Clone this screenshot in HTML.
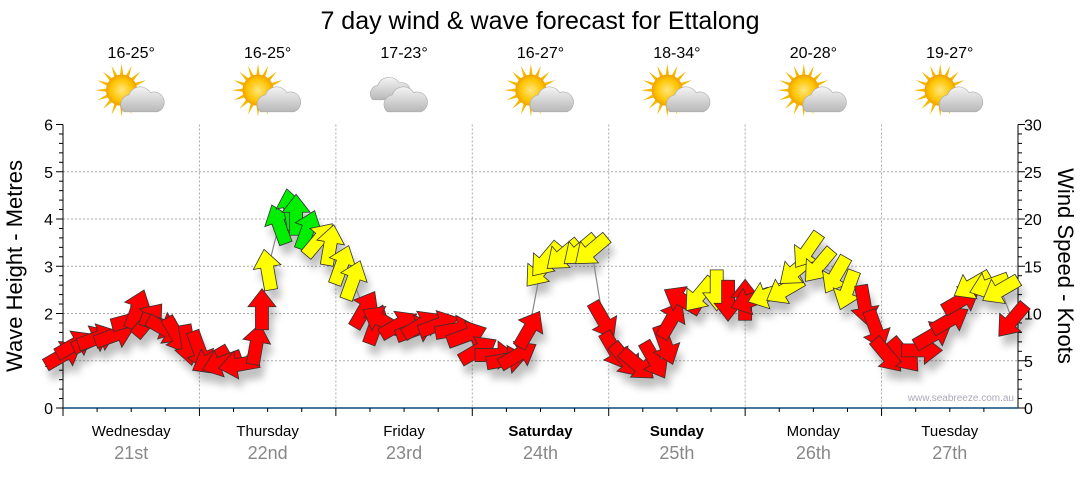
<!DOCTYPE html>
<html><head><meta charset="utf-8"><style>
body{margin:0;background:#fff;width:1080px;height:475px;overflow:hidden;font-family:"Liberation Sans",sans-serif}
</style></head><body>
<svg id="c" width="1080" height="475" xmlns="http://www.w3.org/2000/svg">
<defs>
<filter id="sh" x="-50%" y="-50%" width="200%" height="200%"><feGaussianBlur stdDeviation="4"/></filter>
<radialGradient id="sun" cx="50%" cy="50%" r="50%"><stop offset="0" stop-color="#ffe680"/><stop offset="0.7" stop-color="#ffc400"/><stop offset="1" stop-color="#f0a000"/></radialGradient>
<linearGradient id="cl" x1="0" y1="0" x2="0" y2="1"><stop offset="0" stop-color="#f4f4f4"/><stop offset="1" stop-color="#b8b8b8"/></linearGradient>
</defs>
<text x="540" y="29" text-anchor="middle" font-size="25" fill="#000">7 day wind &amp; wave forecast for Ettalong</text>
<g id="topg"></g>
<g id="grid"></g>
<g id="axes"></g>
<g id="shadows" filter="url(#sh)" opacity="0.25"></g>
<g id="line"></g>
<g id="arrows"></g>
<text x="1014" y="401" text-anchor="end" font-size="10" fill="#aab">www.seabreeze.com.au</text>
<text transform="translate(22,266) rotate(-90)" text-anchor="middle" font-size="22">Wave Height - Metres</text>
<text transform="translate(1058,266) rotate(90)" text-anchor="middle" font-size="22">Wind Speed - Knots</text>
</svg>
<script>
const days=["Wednesday","Thursday","Friday","Saturday","Sunday","Monday","Tuesday"];
const dates=["21st","22nd","23rd","24th","25th","26th","27th"];
const boldDays=[false,false,false,true,true,false,false];
const temps=["16-25°","16-25°","17-23°","16-27°","18-34°","20-28°","19-27°"];
const icons=["partly","partly","cloudy","partly","partly","partly","partly"];
const leftTicks=[0,1,2,3,4,5,6];
const rightTicks=[0,5,10,15,20,25,30];
const hours=[0,2,5,6,9,12,13,15,17,18,20,22,24,
26,28,31,34,35,36,38,40,41,43,45,47,49,51,
53,55,56,59,62,63,66,69,71,
73,76,78,80,82,84,85,88,91,93,95,
97,99,101,104,106,107,109,112,115,117,120,
121,124,127,129,131,133,136,138,141,143,
145,148,151,153,156,158,160,163,165,167];
const speeds=[5.6,6.7,7.2,7.4,7.7,9.3,10.4,9.3,8.8,8.3,7.7,6.7,6.1,
5.1,4.8,4.6,6.7,10.4,14.6,19.4,21,20.4,18.8,17.8,17.2,15.1,13.5,
10.4,8.8,9.3,8.8,8.3,8.8,8.8,8.3,7.7,
6.1,5.6,5.1,5.6,8.3,14.6,15.7,16.2,16.7,16.7,9.3,
6.1,5.1,4.6,5.1,6.7,9.3,11.4,12,12.5,11.4,11.4,
11.4,12,12.5,14.6,16.7,15.1,14.1,12.5,10.9,8.3,
5.6,5.6,6.1,7.7,9.3,11.4,13,13,12.5,9.3];
const dirs=[60,60,65,70,70,75,20,40,110,120,150,170,160,
240,250,260,10,0,350,340,350,0,20,40,10,20,20,
30,20,300,60,70,60,70,80,70,
60,90,80,60,30,220,220,230,230,230,150,
150,140,130,150,160,30,300,220,180,180,0,
250,250,240,230,215,220,210,200,170,160,
140,140,90,60,60,60,240,250,240,220];
const X0=63,X1=1018,Y0=408,Y1=124.5,HRS=168;
const xS=h=>X0+(X1-X0)*h/HRS;
const yM=m=>Y0-(Y0-Y1)*m/6;
const yK=k=>Y0-(Y0-Y1)*k/30;
const NS="http://www.w3.org/2000/svg";
function mk(t,a,p){const e=document.createElementNS(NS,t);for(const k in a)e.setAttribute(k,a[k]);p.appendChild(e);return e;}
const grid=document.getElementById('grid'),axes=document.getElementById('axes'),topG=document.getElementById('topg');
leftTicks.forEach(v=>{if(v>0&&v<6){const l=mk('line',{x1:X0,x2:X1,y1:yM(v),y2:yM(v),stroke:'#aaa','stroke-dasharray':'2,2'},grid);

}
const t=mk('text',{x:X0-10,y:yM(v)+6,'text-anchor':'end','font-size':16},axes);t.textContent=v;

});
rightTicks.forEach(v=>{const t=mk('text',{x:X1+6,y:yK(v)+6,'font-size':16},axes);t.textContent=v;

});
for(let i=0;i<=30;i++){const y=yK(i),L=i%5==0?7:4;mk('line',{x1:X0-L,x2:X0,y1:y,y2:y,stroke:'#000'},axes);mk('line',{x1:X1,x2:X1+L,y1:y,y2:y,stroke:'#000'},axes);}
mk('line',{x1:X0,x2:X0,y1:Y1,y2:Y0,stroke:'#000'},axes);
mk('line',{x1:X1,x2:X1,y1:Y1,y2:Y0,stroke:'#000'},axes);
mk('line',{x1:X0,x2:X1,y1:Y0,y2:Y0,stroke:'#0b4a7a','stroke-width':1.5},axes);
const dw=(X1-X0)/7;
days.forEach((d,i)=>{const xb=X0+dw*i,xc=xb+dw/2;
if(i>0){const l=mk('line',{x1:xb,x2:xb,y1:Y1,y2:Y0,stroke:'#aaa','stroke-dasharray':'2,2'},grid);

}
mk('line',{x1:xb,x2:xb,y1:Y0,y2:Y0+8,stroke:'#000'},axes);
for(let q=1;q<4;q++)mk('line',{x1:xb+dw*q/4,x2:xb+dw*q/4,y1:Y0,y2:Y0+4,stroke:'#000'},axes);
const t=mk('text',{x:xc,y:436,'text-anchor':'middle','font-size':15,'font-weight':boldDays[i]?'bold':'normal'},axes);t.textContent=d;


const t2=mk('text',{x:xc,y:459,'text-anchor':'middle','font-size':18,fill:'#888'},axes);t2.textContent=dates[i];


const t3=mk('text',{x:xc,y:58,'text-anchor':'middle','font-size':16},topG);t3.textContent=temps[i];


const g=mk('g',{transform:`translate(${xc},95) scale(1.2)`},topG);


if(icons[i]=="partly"){
for(let r=0;r<16;r++){const a=r*Math.PI/8;mk('polygon',{points:`${-8+Math.cos(a-0.15)*11},${-4+Math.sin(a-0.15)*11} ${-8+Math.cos(a)*22},${-4+Math.sin(a)*22} ${-8+Math.cos(a+0.15)*11},${-4+Math.sin(a+0.15)*11}`,fill:'#f5b800'},g);}
mk('circle',{cx:-8,cy:-4,r:13,fill:'url(#sun)'},g);
mk('path',{d:'M-6,14 a8,8 0 0 1 4,-14 a10,10 0 0 1 18,-2 a8,8 0 0 1 6,16 z',fill:'url(#cl)',stroke:'#aaa','stroke-width':0.5},g);
}else{
mk('path',{d:'M-26,4 a7,7 0 0 1 4,-12 a10,10 0 0 1 18,-2 a7,7 0 0 1 4,14 z',fill:'url(#cl)',stroke:'#aaa','stroke-width':0.5},g);
mk('path',{d:'M-14,14 a8,8 0 0 1 4,-14 a10,10 0 0 1 18,-2 a8,8 0 0 1 6,16 z',fill:'url(#cl)',stroke:'#aaa','stroke-width':0.5},g);
}});
const ln=document.getElementById('line');
const pl=mk('polyline',{points:hours.map((h,i)=>xS(h)+','+yK(speeds[i])).join(' '),fill:'none',stroke:'#888','stroke-width':1.2},ln);


const ag=document.getElementById('arrows'),sg=document.getElementById('shadows');
const shape='0,-21 14,-3 6.5,-3 6.5,20 -6.5,20 -6.5,-3 -14,-3';
hours.forEach((h,i)=>{const s=speeds[i],c=s>=18?'#00ee00':(s>=12?'#ffff00':'#ff0000');
const x=xS(h),y=yK(s);
mk('polygon',{points:shape,transform:`translate(${x+4},${y+10}) rotate(${dirs[i]})`,fill:'#000'},sg);
const p=mk('polygon',{points:shape,transform:`translate(${x},${y}) rotate(${dirs[i]})`,fill:c,stroke:'#333','stroke-width':0.8},ag);

});
</script>
</body></html>
